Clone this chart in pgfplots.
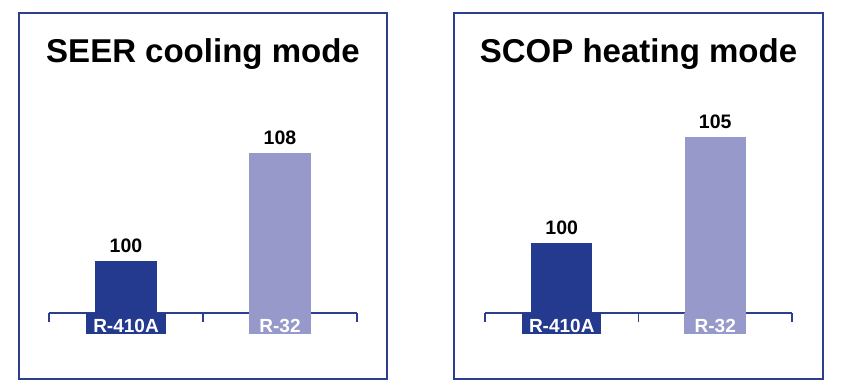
\documentclass[border=0pt]{standalone}
\usepackage{pgfplots}
\pgfplotsset{compat=1.18}
\usepackage{fontspec}
\setmainfont{Liberation Sans}
\definecolor{darkbar}{HTML}{233A8E}
\definecolor{lightbar}{HTML}{9799CB}
\definecolor{frame}{HTML}{2B3E90}
\pgfplotsset{
  panel/.style={
    anchor=south west, scale only axis,
    xmin=-0.5, xmax=1.5,
    axis x line=bottom, axis y line=none,
    axis line style={draw=frame, line width=1.6bp, -},
    xtick={-0.5,0.5,1.5}, xticklabels={},
    major tick length=9bp, tick align=outside,
    tick style={draw=frame, line width=1.6bp},
    ybar, bar width=0.4, bar shift=0pt,
    /pgf/number format/assume math mode=true,
    nodes near coords,
    every node near coord/.append style={anchor=south, inner sep=0pt, yshift=8bp,
      font=\fontsize{19.5bp}{22bp}\selectfont\bfseries, text=black},
  },
}
\tikzset{
  catlab/.style={anchor=north, text=white, inner xsep=7bp, inner ysep=0.5bp,
      text height=19bp, text depth=0.5bp, minimum width=62bp,
      font=\fontsize{19bp}{21bp}\selectfont\bfseries},
}
\begin{document}
\begin{tikzpicture}
\useasboundingbox (0,0) rectangle (848bp,390bp);
% panel frames
\draw[frame, line width=1.8bp] (19bp,11bp) rectangle (387bp,377bp);
\draw[frame, line width=1.8bp] (454bp,11bp) rectangle (823bp,377bp);
% titles
\node[anchor=base, font=\fontsize{33bp}{38bp}\selectfont\bfseries] at (203bp,327bp) {SEER cooling mode};
\node[anchor=base, font=\fontsize{33bp}{38bp}\selectfont\bfseries] at (638.5bp,327bp) {SCOP heating mode};
% left panel
\begin{axis}[panel, at={(49bp,77bp)}, width=308bp, height=187bp, ymin=96.15, ymax=110]
\addplot[fill=darkbar, draw=none] coordinates {(0,100)};
\addplot[fill=lightbar, draw=none] coordinates {(1,108)};
\coordinate (LA) at (axis cs:0,96.15);
\coordinate (LB) at (axis cs:1,96.15);
\end{axis}
\node[catlab, fill=darkbar] at (LA) {R-410A};
\node[catlab, fill=lightbar] at (LB) {R-32};
% right panel
\begin{axis}[panel, at={(485bp,77bp)}, width=307bp, height=239.6bp, ymin=96.7, ymax=108]
\addplot[fill=darkbar, draw=none] coordinates {(0,100)};
\addplot[fill=lightbar, draw=none] coordinates {(1,105)};
\coordinate (RA) at (axis cs:0,96.7);
\coordinate (RB) at (axis cs:1,96.7);
\end{axis}
\node[catlab, fill=darkbar] at (RA) {R-410A};
\node[catlab, fill=lightbar] at (RB) {R-32};
\end{tikzpicture}
\end{document}
